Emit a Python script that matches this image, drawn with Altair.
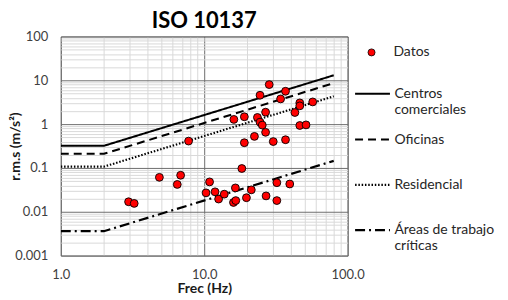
import altair as alt
import pandas as pd

# ---- data ----
frec_datos = [2.97, 3.25, 4.87, 6.49, 6.85, 7.78, 10.3, 10.9, 11.9, 12.6, 13.8,
              16.0, 16.1, 16.5, 16.6, 18.3, 19.05, 19.05, 19.7, 21.3, 22.4, 23.5,
              24.5, 24.5, 25.4, 26.8, 26.8, 27.0, 28.4, 30.3, 32.1, 32.1, 34.1,
              36.9, 36.9, 39.5, 42.9, 46.4, 46.4, 46.4, 51.3, 57.1]
rms_datos = [0.0169, 0.0155, 0.061, 0.042, 0.068, 0.41, 0.027, 0.048, 0.0285, 0.0195, 0.0252,
             0.0163, 1.28, 0.035, 0.018, 0.097, 1.47, 0.376, 0.0209, 0.0316, 0.525, 1.42,
             4.56, 1.11, 0.95, 1.87, 0.65, 0.023, 7.98, 0.40, 0.046, 0.018, 3.76,
             5.62, 0.44, 0.043, 1.84, 3.05, 2.61, 0.93, 0.96, 3.21]

frec_limites = [1, 2, 80]
centros = [0.32, 0.32, 13.0]
oficinas = [0.21, 0.21, 8.6]
residencial = [0.107, 0.107, 4.3]
areas = [0.0036, 0.0036, 0.145]

nombres = ["Centros comerciales", "Oficinas", "Residencial", "Áreas de trabajo críticas"]
etiquetas_leyenda = [["Centros", "comerciales"], ["Oficinas"], ["Residencial"],
                     ["Áreas de trabajo", "críticas"]]
trazos = [[1, 0], [8, 5], [1.5, 1.8], [10, 4, 2, 4]]
grosores = [2, 2.2, 1.6, 2]

x_ticks = [1, 2, 3, 4, 5, 6, 7, 8, 9, 10, 20, 30, 40, 50, 60, 70, 80, 90, 100]
x_major = [1, 10, 100]
x_labels = ["1.0", "10.0", "100.0"]
y_ticks = [0.001, 0.002, 0.003, 0.004, 0.005, 0.006, 0.007, 0.008, 0.009,
           0.01, 0.02, 0.03, 0.04, 0.05, 0.06, 0.07, 0.08, 0.09,
           0.1, 0.2, 0.3, 0.4, 0.5, 0.6, 0.7, 0.8, 0.9,
           1, 2, 3, 4, 5, 6, 7, 8, 9,
           10, 20, 30, 40, 50, 60, 70, 80, 90, 100]
y_major = [0.001, 0.01, 0.1, 1, 10, 100]
y_labels = ["0.001", "0.01", "0.1", "1", "10", "100"]

# ---- tables ----
df_pts = pd.DataFrame({"frec": frec_datos, "rms": rms_datos, "grupo": "Datos"})
filas = []
for nombre, serie in zip(nombres, [centros, oficinas, residencial, areas]):
    for f, v in zip(frec_limites, serie):
        filas.append({"frec": f, "rms": v, "limite": nombre})
df_lin = pd.DataFrame(filas)


def label_expr(values, labels):
    expr = "''"
    for v, l in reversed(list(zip(values, labels))):
        expr = f"datum.value == {v} ? '{l}' : ({expr})"
    return expr


def grid_color(major):
    return {"condition": {"test": f"indexof({major}, datum.value) >= 0", "value": "#6e6e6e"},
            "value": "#d9d9d9"}


leg_expr = "datum.label"
for n, parts in zip(nombres, etiquetas_leyenda):
    arr = "[" + ", ".join(f"'{p}'" for p in parts) + "]"
    leg_expr = f"datum.label == '{n}' ? {arr} : ({leg_expr})"

FONT = "Lato"

x_enc = alt.X("frec:Q",
              scale=alt.Scale(type="log", domain=[1, 100], nice=False, zero=False),
              axis=alt.Axis(values=x_ticks, labelExpr=label_expr(x_major, x_labels),
                            gridColor=grid_color(x_major), title="Frec (Hz)",
                            titleY=33, titleBaseline="middle", labelPadding=13))
y_enc = alt.Y("rms:Q",
              scale=alt.Scale(type="log", domain=[0.001, 100], nice=False, zero=False),
              axis=alt.Axis(values=y_ticks, labelExpr=label_expr(y_major, y_labels),
                            gridColor=grid_color(y_major), title="r.m.s (m/s²)",
                            titleX=-45, titleBaseline="middle", labelPadding=13))

lineas = alt.Chart(df_lin).mark_line(color="black", clip=True).encode(
    x=x_enc, y=y_enc,
    strokeDash=alt.StrokeDash("limite:N", scale=alt.Scale(domain=nombres, range=trazos),
                              sort=nombres,
                              legend=alt.Legend(title=None, orient="none", legendX=294, legendY=39,
                                                symbolType="stroke", symbolSize=1225,
                                                symbolStrokeWidth=2, symbolStrokeColor="black",
                                                labelOffset=3, labelExpr=leg_expr,
                                                rowPadding=3.5, gridAlign="all", padding=0,
                                                labelFont=FONT, labelFontSize=14,
                                                labelColor="#262626")),
    strokeWidth=alt.StrokeWidth("limite:N", scale=alt.Scale(domain=nombres, range=grosores),
                                legend=None),
)

puntos = alt.Chart(df_pts).mark_circle(size=62, stroke="black", strokeWidth=0.9, opacity=1).encode(
    x="frec:Q", y="rms:Q",
    color=alt.Color("grupo:N", scale=alt.Scale(domain=["Datos"], range=["#ff0000"]),
                    legend=alt.Legend(title=None, orient="none", legendX=305, legendY=9,
                                      symbolType="circle", symbolSize=50,
                                      symbolStrokeColor="black", symbolStrokeWidth=0.8,
                                      symbolOpacity=1,
                                      labelOffset=15, padding=0,
                                      labelFont=FONT, labelFontSize=14, labelColor="#262626")),
)

chart = alt.layer(lineas, puntos).properties(
    width=288, height=220,
    title=alt.TitleParams("ISO 10137", font=FONT, fontSize=22, fontWeight="bold", color="black",
                          anchor="middle", baseline="alphabetic", offset=-19),
    padding={"left": 1, "top": 1, "right": 5, "bottom": 0},
).configure_view(stroke="#6e6e6e", strokeWidth=1).configure_axis(
    domain=False, ticks=False, tickSize=0, labelFont=FONT, labelFontSize=13,
    labelColor="#404040", labelOverlap=False, labelFlush=False,
    titleFont=FONT, titleFontSize=14, titleFontWeight="bold", titleColor="#1a1a1a",
    gridWidth=1,
)

chart.save("out.html", embed_options={"renderer": "svg", "actions": False})
